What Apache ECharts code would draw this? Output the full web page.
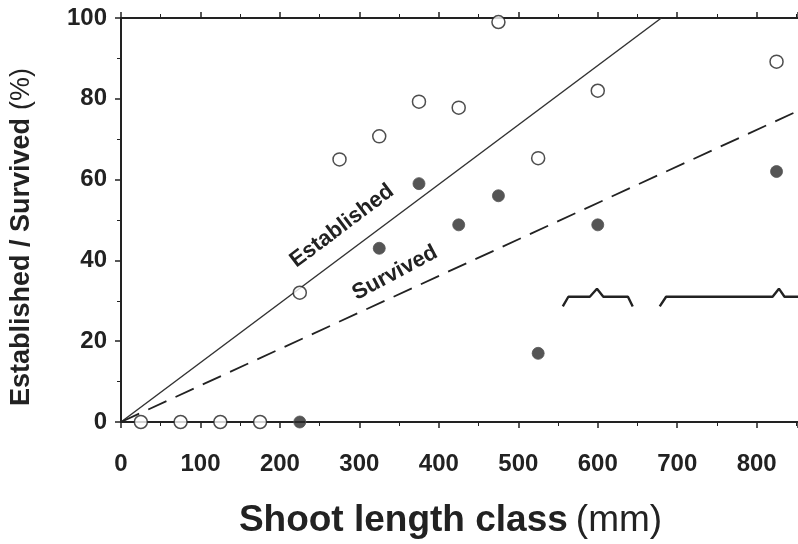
<!DOCTYPE html>
<html>
<head>
<meta charset="utf-8">
<script src="https://cdn.jsdelivr.net/npm/echarts@6/dist/echarts.min.js"></script>
<style>
  html, body { margin: 0; padding: 0; background: #fff; }
  #chart { width: 798px; height: 544px; }
</style>
</head>
<body>
<div id="chart"></div>
<script>
// values
var estX = [25, 75, 125, 175, 225, 275, 325, 375, 425, 475, 525, 600, 825];
var estY = [0, 0, 0, 0, 32, 65, 70.7, 79.3, 77.8, 99, 65.3, 82, 89.2];
var survX = [225, 325, 375, 425, 475, 525, 600, 825];
var survY = [0, 43, 59, 48.8, 56, 17, 48.8, 62];
var estLine = [[0, 0], [680, 100]];
var survLine = [[0, 0], [852, 77]];
// axis-break brackets
var bracketA = [[556, 28.6], [563, 31], [590, 31], [599, 33], [607, 31], [638, 31], [644, 28.6]];
var bracketB = [[678, 28.6], [686, 31], [820, 31], [828, 33], [835, 31], [852, 31]];

function pairs(xs, ys) {
    let out = [];
    for (let i = 0; i < xs.length; i++) out.push([xs[i], ys[i]]);
    return out;
}

var axisFont = {fontFamily: 'Liberation Sans', fontWeight: 'bold', fontSize: 24, color: '#222'};

var option = {
    animation: false,
    grid: {left: 121, right: 0, top: 18, bottom: 120},
    xAxis: [{
        type: 'value',
        min: 0,
        max: 852,
        interval: 100,
        position: 'bottom',
        axisLine: {lineStyle: {color: '#222', width: 2}},
        axisTick: {length: 6, lineStyle: {color: '#222', width: 1.5}},
        minorTick: {show: true, splitNumber: 2, length: 4, lineStyle: {color: '#222'}},
        splitLine: {show: false},
        axisLabel: Object.assign({margin: 30, showMaxLabel: false}, axisFont),
        name: '{b|Shoot length class}{n|(mm)}',
        nameLocation: 'middle',
        nameGap: 80,
        nameTextStyle: {
            padding: [0, 18, 0, 0],
            rich: {
                b: {fontFamily: 'Liberation Sans', fontWeight: 'bold', fontSize: 37, color: '#222'},
                n: {fontFamily: 'Liberation Sans', fontSize: 37, color: '#222', padding: [0, 0, 0, 8]}
            }
        }
    }, {
        type: 'value',
        min: 0,
        max: 852,
        interval: 100,
        position: 'top',
        axisLine: {show: true, lineStyle: {color: '#222', width: 2}},
        axisTick: {show: true, length: 6, lineStyle: {color: '#222', width: 1.5}},
        minorTick: {show: true, splitNumber: 2, length: 4, lineStyle: {color: '#222'}},
        splitLine: {show: false},
        axisLabel: {show: false}
    }],
    yAxis: {
        type: 'value',
        min: 0,
        max: 100,
        interval: 20,
        axisLine: {show: true, lineStyle: {color: '#222', width: 2}},
        axisTick: {show: true, length: 6, lineStyle: {color: '#222', width: 1.5}},
        minorTick: {show: true, splitNumber: 2, length: 4, lineStyle: {color: '#222'}},
        splitLine: {show: false},
        axisLabel: Object.assign({margin: 14}, axisFont),
        name: '{b|Established / Survived}{n|(%)}',
        nameLocation: 'middle',
        nameGap: 86,
        nameTextStyle: {
            padding: [0, 34, 0, 0],
            rich: {
                b: {fontFamily: 'Liberation Sans', fontWeight: 'bold', fontSize: 27, color: '#222'},
                n: {fontFamily: 'Liberation Sans', fontSize: 27, color: '#222', padding: [0, 0, 0, 8]}
            }
        }
    },
    series: [
        {
            type: 'line',
            data: estLine,
            symbol: 'none',
            lineStyle: {color: '#333', width: 1.5},
            z: 2
        },
        {
            type: 'line',
            data: survLine,
            symbol: 'none',
            lineStyle: {color: '#222', width: 1.8, type: [20, 10]},
            z: 2
        },
        {
            type: 'line',
            data: bracketA,
            symbol: 'none',
            lineStyle: {color: '#222', width: 2.4},
            z: 2
        },
        {
            type: 'line',
            data: bracketB,
            symbol: 'none',
            lineStyle: {color: '#222', width: 2.4},
            z: 2
        },
        {
            type: 'scatter',
            data: pairs(estX, estY),
            symbol: 'circle',
            symbolSize: 13,
            clip: false,
            itemStyle: {color: '#fff', borderColor: '#222', borderWidth: 1.5},
            z: 5
        },
        {
            type: 'scatter',
            data: pairs(survX, survY),
            symbol: 'circle',
            symbolSize: 12,
            clip: false,
            itemStyle: {color: '#2b2b2b', borderColor: '#555', borderWidth: 1},
            z: 5
        }
    ],
    graphic: [
        {
            type: 'text',
            x: 342, y: 226,
            rotation: 37 * Math.PI / 180,
            style: {text: 'Established', font: 'bold 22px "Liberation Sans"', fill: '#222', align: 'center', verticalAlign: 'middle'}
        },
        {
            type: 'text',
            x: 395, y: 273,
            rotation: 28 * Math.PI / 180,
            style: {text: 'Survived', font: 'bold 22px "Liberation Sans"', fill: '#222', align: 'center', verticalAlign: 'middle'}
        }
    ]
};

var chart = echarts.init(document.getElementById('chart'), null, {renderer: 'canvas'});
chart.setOption(option);
</script>
</body>
</html>
